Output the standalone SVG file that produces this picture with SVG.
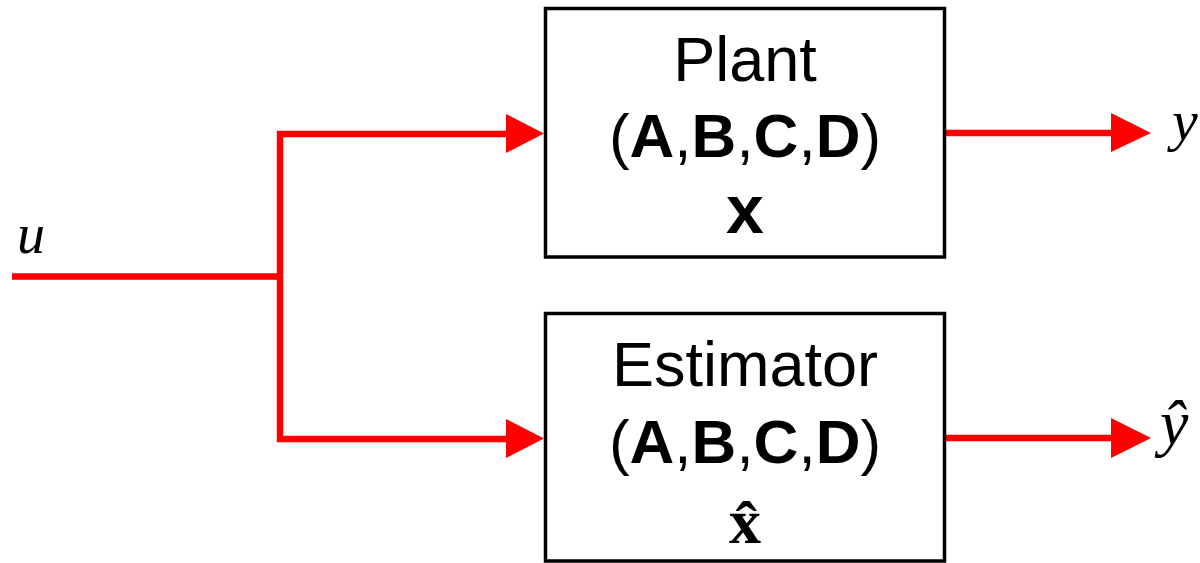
<svg xmlns="http://www.w3.org/2000/svg" width="1200" height="563" viewBox="0 0 1200 563">
<style>
.box{fill:#fff;stroke:#000;stroke-width:3.5}
.wire{fill:none;stroke:#ff0000;stroke-width:6.5}
.head{fill:#ff0000}
.sans{font-family:"Liberation Sans",Arial,sans-serif;fill:#000}
.ser{font-family:"Liberation Serif","Times New Roman",serif;fill:#000}
.b{font-weight:bold}
</style>
<g id="connectors">
<path class="wire" d="M12,276.5 H280 M280,131 V442 M277,134 H510 M277,439 H510 M945,133 H1114 M945,438 H1114"/>
<polygon class="head" points="506,114 544,133.5 506,153"/>
<polygon class="head" points="506,419 544,438.5 506,458"/>
<polygon class="head" points="1111,113 1151,133 1111,152"/>
<polygon class="head" points="1111,418 1151,438 1111,458"/>
</g>
<g id="plant">
<rect class="box" x="545.5" y="8.5" width="399" height="248.5"/>
<text class="sans" x="745" y="81" font-size="63" text-anchor="middle">Plant</text>
<text class="sans" x="745" y="157" font-size="62" text-anchor="middle">(<tspan class="b">A</tspan>,<tspan class="b">B</tspan>,<tspan class="b">C</tspan>,<tspan class="b">D</tspan>)</text>
<text class="sans b" x="745" y="233" font-size="68" text-anchor="middle">x</text>
</g>
<g id="estimator">
<rect class="box" x="545.5" y="313.5" width="399" height="247.5"/>
<text class="sans" x="745" y="386" font-size="63" text-anchor="middle">Estimator</text>
<text class="sans" x="745" y="463" font-size="62" text-anchor="middle">(<tspan class="b">A</tspan>,<tspan class="b">B</tspan>,<tspan class="b">C</tspan>,<tspan class="b">D</tspan>)</text>
<text class="ser b" x="745" y="543" font-size="64" text-anchor="middle">x̂</text>
</g>
<g id="label-u">
<text class="ser" x="17" y="253" font-size="56" font-style="italic">u</text>
</g>
<g id="label-y">
<text class="ser" x="1172" y="140" font-size="58" font-style="italic">y</text>
</g>
<g id="label-yhat">
<text class="ser" x="1160" y="444" font-size="64" font-style="italic">ŷ</text>
</g>
</svg>
